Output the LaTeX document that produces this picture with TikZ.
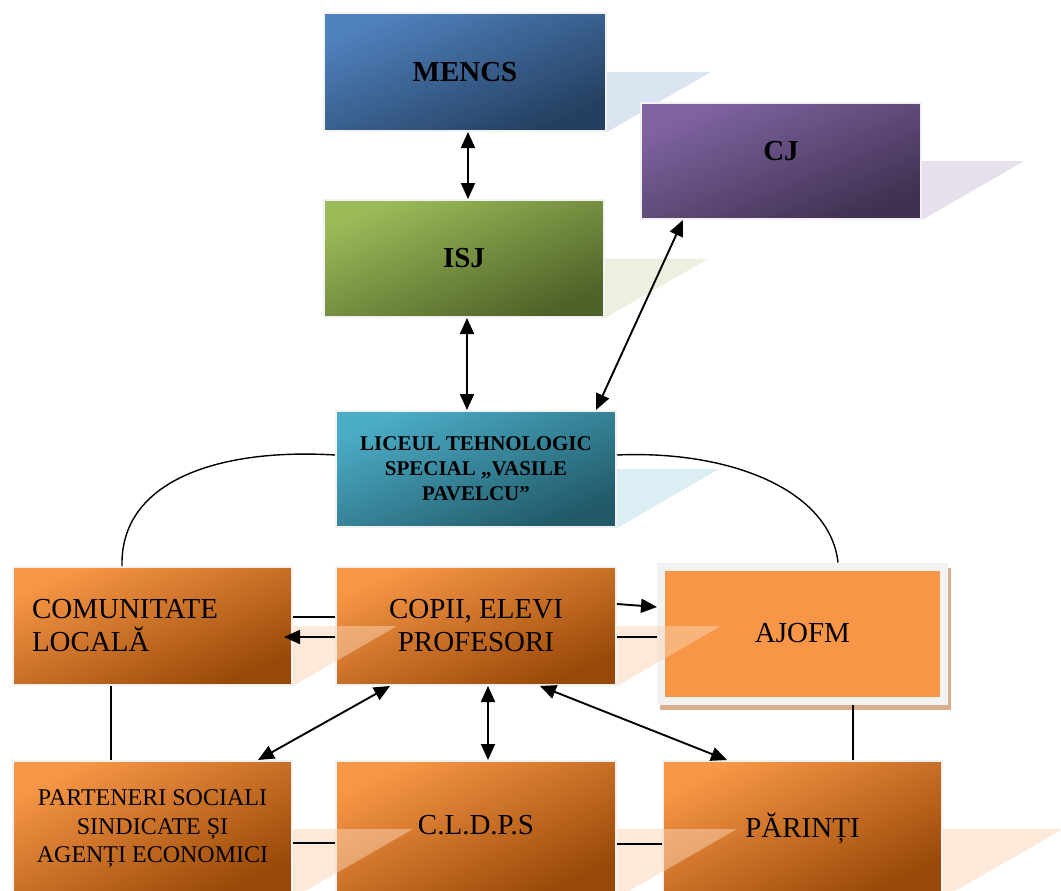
\documentclass[tikz,border=0pt]{standalone}
\usepackage{fontspec}
\setmainfont{Liberation Serif}
\usetikzlibrary{arrows.meta,calc,backgrounds}
\definecolor{blA}{HTML}{4F81BD}\definecolor{blB}{HTML}{243F60}
\definecolor{grA}{HTML}{9BBB59}\definecolor{grB}{HTML}{4F6228}
\definecolor{puA}{HTML}{8064A2}\definecolor{puB}{HTML}{3F3151}
\definecolor{teA}{HTML}{4BACC6}\definecolor{teB}{HTML}{215968}
\definecolor{orA}{HTML}{F79646}\definecolor{orB}{HTML}{984807}
\definecolor{shBl}{HTML}{DBE5F1}\definecolor{shGr}{HTML}{EBF1DE}
\definecolor{shPu}{HTML}{E5E0EC}\definecolor{shTe}{HTML}{DAEEF3}
\definecolor{shOr}{HTML}{FBD3B3}
\definecolor{frame}{HTML}{F2F2F2}\definecolor{tanc}{HTML}{D9B08F}
\begin{document}
\begin{tikzpicture}[x=1pt,y=-1pt,
  grad/.style n args={3}{top color=#1, bottom color=#2, shading angle=#3},
  bbox/.style={inner sep=0pt, draw=frame, line width=2pt, align=center},
  obox/.style={bbox, grad={orA}{orB}{23}},
  oboxlow/.style={bbox, grad={orA}{orB}{26}},
  bigbold/.style={font=\bfseries\fontsize{29}{33}\selectfont},
  bigreg/.style={font=\fontsize{29}{33}\selectfont},
  dbl/.style={line width=1.9pt, {Triangle[length=16pt,width=14pt]}-{Triangle[length=16pt,width=14pt]}},
  sgl/.style={line width=1.9pt, -{Triangle[length=16pt,width=14pt]}},
  pln/.style={line width=1.4pt},
  obsh/.style={fill=shOr, fill opacity=0.5}
]
\clip (0,0) rectangle (1061,891);

% upper boxes with solid shadows
\node[bbox, grad={blA}{blB}{23}, minimum width=282pt, minimum height=118pt, bigbold] (mencs) at (465,72) {MENCS};
\node[bbox, grad={grA}{grB}{23}, minimum width=280pt, minimum height=117pt, bigbold] (isj) at (464,258.5) {ISJ};
\node[bbox, grad={teA}{teB}{23}, minimum width=280pt, minimum height=116pt, font=\bfseries\fontsize{21}{25}\selectfont] (liceul) at (476,469) {LICEUL TEHNOLOGIC\\SPECIAL „VASILE\\PAVELCU”};
\begin{scope}[on background layer]
\fill[shBl] (mencs.east) -- ++(104,0) -- (mencs.south east) -- cycle;
\fill[shGr] (isj.east) -- ++(104,0) -- (isj.south east) -- cycle;
\fill[shTe] (liceul.east) -- ++(102,0) -- (liceul.south east) -- cycle;
\end{scope}
\node[bbox, grad={puA}{puB}{23}, minimum width=280pt, minimum height=116pt, bigbold] (cj) at (781,161) {\raisebox{20pt}{CJ}};
\begin{scope}[on background layer]
\fill[shPu] (cj.east) -- ++(102,0) -- (cj.south east) -- cycle;
\end{scope}

% orange boxes
\node[obox, minimum width=279pt, minimum height=118pt, bigreg, text width=241pt, align=left] (comunitate) at (152.5,626) {COMUNITATE\\LOCALĂ};
\node[obox, minimum width=280pt, minimum height=118pt, bigreg] (copii) at (476,626) {COPII, ELEVI\\PROFESORI};
\node[inner sep=0pt, draw=frame, fill=orA, line width=8pt, minimum width=283pt, minimum height=134pt, bigreg] (ajofm) at (802.5,633.5) {AJOFM};
\begin{scope}[on background layer]
\fill[tanc] ($(ajofm.north west)+(3,5)$) rectangle ($(ajofm.south east)+(3,5)$);
\end{scope}
\node[oboxlow, minimum width=279pt, minimum height=136pt, font=\fontsize{24}{28.5}\selectfont] (parteneri) at (152.5,829) {PARTENERI SOCIALI\\SINDICATE ȘI\\AGENȚI ECONOMICI};
\node[oboxlow, minimum width=280pt, minimum height=136pt, bigreg] (cldps) at (476,829) {\raisebox{8pt}{C.L.D.P.S}};
\node[oboxlow, minimum width=279pt, minimum height=136pt, bigreg] (parinti) at (802.5,829) {\raisebox{7pt}{PĂRINȚI}};

% translucent perspective shadows of orange boxes
\fill[obsh] (comunitate.east) -- ++(104,0) -- (comunitate.south east) -- cycle;
\fill[obsh] (copii.east) -- ++(104,0) -- (copii.south east) -- cycle;
\fill[obsh] (parteneri.east) -- ++(120,0) -- (parteneri.south east) -- cycle;
\fill[obsh] (cldps.east) -- ++(120,0) -- (cldps.south east) -- cycle;
\fill[obsh] (parinti.east) -- ++(120,0) -- (parinti.south east) -- cycle;

% connectors
\draw[dbl] (mencs.south -| 468,0) -- (isj.north -| 468,0);
\draw[dbl] (isj.south -| 467,0) -- (liceul.north -| 467,0);
\coordinate (cjA) at (683,222);
\coordinate (liA) at (596,408);
\draw[dbl] (cj.south -| cjA) -- (liceul.north -| liA);

\draw[pln] (liceul.west |- 0,455) .. controls (220,448) and (120,480) .. (comunitate.north -| 122,0);
\draw[pln] (liceul.east |- 0,455) .. controls (730,450) and (830,490) .. (ajofm.north -| 838,0);

\draw[pln] (comunitate.east |- 0,617) -- (copii.west |- 0,617);
\coordinate (coTip) at (284,637);
\draw[sgl] (copii.west |- 0,637) -- (coTip);
\draw[sgl] (copii.east |- 0,604) -- (ajofm.west |- 0,607);
\draw[pln] (copii.east |- 0,637) -- (ajofm.west |- 0,637);

\draw[pln] (comunitate.south -| 111,0) -- (parteneri.north -| 111,0);
\draw[pln] (ajofm.south -| 853,0) -- (parinti.north -| 853,0);

\coordinate (c1) at (390,688); \coordinate (p1) at (258,760);
\draw[dbl] (copii.south -| c1) -- (parteneri.north -| p1);
\draw[dbl] (copii.south -| 488,0) -- (cldps.north -| 488,0);
\coordinate (c2) at (540,688); \coordinate (p2) at (727,760);
\draw[dbl] (copii.south -| c2) -- (parinti.north -| p2);

\draw[pln] (parteneri.east |- 0,843) -- (cldps.west |- 0,843);
\draw[pln] (cldps.east |- 0,844) -- (parinti.west |- 0,844);
\end{tikzpicture}
\end{document}
